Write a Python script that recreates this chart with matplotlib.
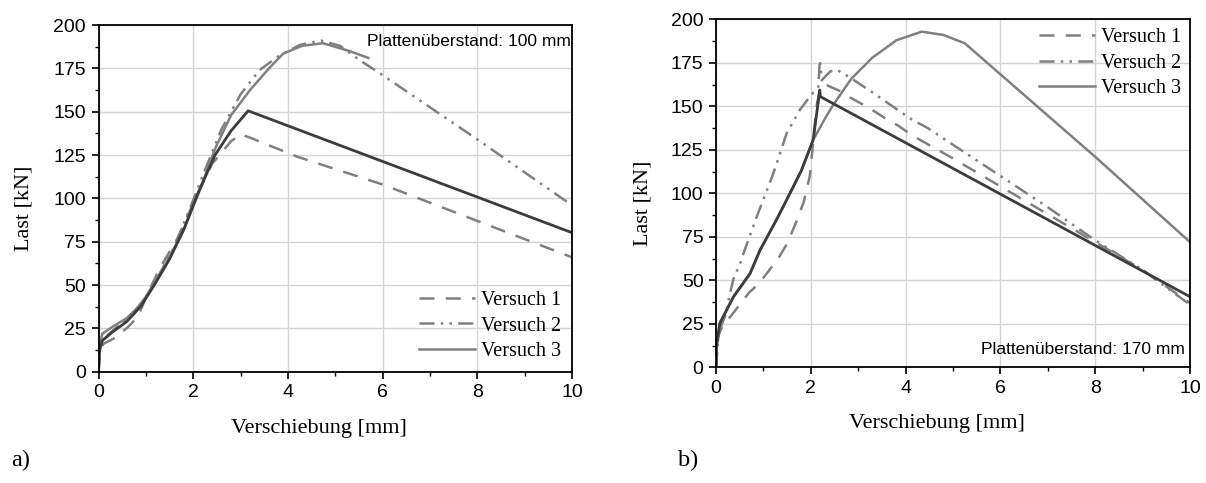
import matplotlib
matplotlib.use("Agg")
import matplotlib.pyplot as plt
from matplotlib.ticker import MultipleLocator

# --- Daten Bild a) (Plattenueberstand 100 mm) ---
a_v1_x = [0, 0.02, 0.1, 0.38, 0.63, 0.84, 1.0, 1.3, 1.65, 2.0, 2.4, 2.8, 3.0, 3.2, 4.2, 6.0, 8.0, 10.0]
a_v1_y = [0, 10, 16, 20, 26, 32, 43, 60, 76, 97, 120, 133, 137, 135, 124, 108, 87, 66]

a_v2_x = [0, 0.03, 0.1, 0.4, 0.7, 1.0, 1.3, 1.6, 1.9, 2.2, 2.6, 3.0, 3.4, 3.8, 4.25, 4.7, 5.1, 5.5, 5.95, 8.0, 10.0]
a_v2_y = [0, 14, 19, 26, 33, 43, 57, 72, 92, 113, 140, 160, 174, 182, 188.5, 191, 188, 180, 172, 134, 96]

a_v3_x = [0, 0.02, 0.08, 0.3, 0.6, 0.9, 1.2, 1.5, 1.8, 2.1, 2.46, 2.8, 3.2, 3.6, 3.9, 4.3, 4.74, 5.3, 5.7]
a_v3_y = [0, 15, 22, 26, 31, 39, 52, 66, 82, 102, 128.5, 148, 162.5, 175, 183.5, 188, 189.5, 185, 181]

a_ber_x = [0, 0.02, 0.08, 0.3, 0.6, 0.9, 1.2, 1.5, 1.8, 2.1, 2.46, 2.8, 3.16, 10.0]
a_ber_y = [0, 12, 18, 23, 29, 38, 51, 65, 82, 103, 125, 139, 150.5, 80.2]

# --- Daten Bild b) (Plattenueberstand 170 mm) ---
b_v1_x = [0, 0.05, 0.15, 0.3, 0.5, 0.7, 0.9, 1.1, 1.3, 1.5, 1.7, 1.85, 1.98, 2.05, 2.12, 2.2,
          2.35, 2.6, 2.8, 3.1, 3.35, 3.6, 3.85, 4.1, 4.35, 4.94, 6.0, 7.0, 8.0, 9.0, 10.0]
b_v1_y = [0, 18, 25, 29, 36, 43, 48, 55, 62, 71, 84, 95, 110, 129, 150, 161,
          162, 159, 155.5, 151, 147, 142.6, 138.8, 134, 130, 121, 104, 88, 72, 56, 37]

b_v2_x = [0, 0.05, 0.2, 0.3, 0.37, 0.5, 0.6, 0.86, 1.21, 1.49, 1.77, 1.98, 2.16, 2.19, 2.23,
          2.41, 2.55, 2.8, 3.28, 4.09, 4.48, 4.94, 6.0, 7.0, 8.0, 9.0, 10.0]
b_v2_y = [0, 20, 30, 43, 51, 59, 67, 86.6, 111.5, 134.5, 148, 155.6, 161.3, 176.6, 165,
          170, 171, 167, 158.4, 143.1, 137.3, 129, 110, 92, 73, 56, 36]

b_v3_x = [0, 0.01, 0.08, 0.37, 0.72, 0.93, 1.28, 1.49, 1.8, 2.05, 2.3, 2.47, 2.86, 3.3, 3.81,
          4.34, 4.8, 5.25, 8.0, 10.0]
b_v3_y = [0, 11.9, 25.3, 40.6, 54, 67.4, 85, 96.2, 113, 130.7, 143, 150.7, 166, 178, 188,
          192.9, 191, 186.2, 121, 72]

b_ber_x = [0, 0.01, 0.08, 0.37, 0.72, 0.93, 1.28, 1.49, 1.8, 2.05, 2.12, 2.19, 2.2, 10.0]
b_ber_y = [0, 11.9, 25.3, 40.6, 54, 67.4, 85, 96.2, 113, 130.7, 145, 159.4, 155.6, 40.6]

labels = ["Versuch 1", "Versuch 2", "Versuch 3"]

GRAU = "#808080"
DUNKEL = "#3c3c3c"
serif = "Liberation Serif"
sans = "Liberation Sans"

fig = plt.figure(figsize=(12.06, 4.83), dpi=100)
ax_a = fig.add_axes([0.0817, 0.2304, 0.3926, 0.7178])
ax_b = fig.add_axes([0.5937, 0.2395, 0.3930, 0.7205])


def zeichne(ax, v1, v2, v3, ber):
    l1, = ax.plot(v1[0], v1[1], color=GRAU, lw=1.8, linestyle=(0, (6, 4.5)))
    l2, = ax.plot(v2[0], v2[1], color=GRAU, lw=1.8, linestyle=(0, (6, 2.5, 1, 2.5, 1, 2.5)))
    l3, = ax.plot(v3[0], v3[1], color=GRAU, lw=1.8)
    ax.plot(ber[0], ber[1], color=DUNKEL, lw=2.0)
    ax.set_xlim(0, 10)
    ax.set_ylim(0, 200)
    ax.xaxis.set_major_locator(MultipleLocator(2))
    ax.xaxis.set_minor_locator(MultipleLocator(1))
    ax.yaxis.set_major_locator(MultipleLocator(25))
    ax.yaxis.set_minor_locator(MultipleLocator(12.5))
    ax.grid(True, which="major", color="#d4d4d4", lw=1.0)
    ax.set_axisbelow(True)
    ax.tick_params(which="major", direction="out", length=5, width=1.2, labelsize=14, pad=4)
    ax.tick_params(which="minor", direction="out", length=3, width=1.0)
    for lab in ax.get_xticklabels() + ax.get_yticklabels():
        lab.set_fontfamily(sans)
    for sp in ax.spines.values():
        sp.set_linewidth(1.3)
    ax.set_xlabel("Verschiebung [mm]", fontfamily=serif, fontsize=16)
    ax.set_ylabel("Last [kN]", fontfamily=serif, fontsize=16)
    ax.xaxis.set_label_coords(0.466, -0.135)
    return [l1, l2, l3]


h = zeichne(ax_a, (a_v1_x, a_v1_y), (a_v2_x, a_v2_y), (a_v3_x, a_v3_y), (a_ber_x, a_ber_y))
ax_a.yaxis.set_label_coords(-0.138, 0.47)
ax_a.legend(h, labels, loc="lower right", frameon=False, prop={"family": serif, "size": 14.5},
            handlelength=2.75, handletextpad=0.3, labelspacing=0.3, borderaxespad=0.15)
ax_a.text(0.997, 0.952, "Plattenüberstand: 100 mm", transform=ax_a.transAxes,
          ha="right", va="center", fontfamily=sans, fontsize=12.5)

h = zeichne(ax_b, (b_v1_x, b_v1_y), (b_v2_x, b_v2_y), (b_v3_x, b_v3_y), (b_ber_x, b_ber_y))
ax_b.yaxis.set_label_coords(-0.135, 0.47)
ax_b.legend(h, labels, loc="upper right", frameon=False, prop={"family": serif, "size": 14.5},
            handlelength=2.75, handletextpad=0.3, labelspacing=0.3, borderaxespad=0.05)
ax_b.text(0.99, 0.05, "Plattenüberstand: 170 mm", transform=ax_b.transAxes,
          ha="right", va="center", fontfamily=sans, fontsize=12.5)

fig.text(0.009, 0.046, "a)", fontfamily=serif, fontsize=17.5, va="center")
fig.text(0.562, 0.046, "b)", fontfamily=serif, fontsize=17.5, va="center")

fig.savefig("out.png", dpi=100)
